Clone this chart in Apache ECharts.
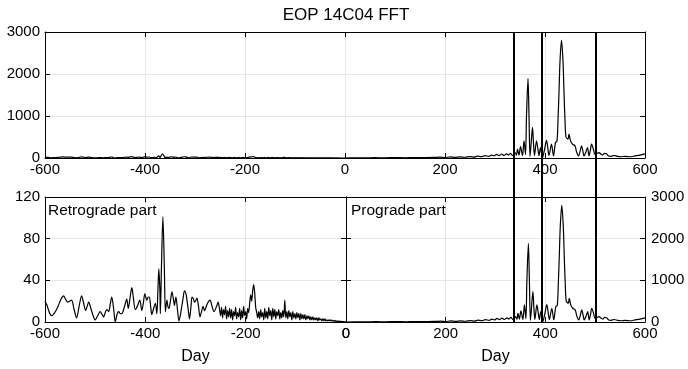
<!DOCTYPE html>
<html>
<head>
<meta charset="utf-8">
<script src="https://cdn.jsdelivr.net/npm/echarts@6/dist/echarts.min.js"></script>
<style>
html,body{margin:0;padding:0;background:#fff;}
#chart{width:688px;height:369px;}
</style>
</head>
<body>
<div id="chart"></div>
<script>
// Retrograde part (negative periods, days) and amplitude
const retroDays = [
 -600,-596,-592,-587,-582,-575,-568,-563,-559,-555,-551,-547,-542,-537,-532,-527,-523,-519,-516,-513,
 -508,-504,-500,-495,-490,-486,-483,-480,-477,-473,-470,-467,-463,-460,-456,-453,-450,-447,-442,-437,
 -434,-430,-427,-424,-420,-416,-411,-407,-404,-401,-397,-394,-392,-389,-387,-384,-380,-377,-375,-373,
 -371,-370,-368,-365,-362,-360,-357,-355,-353,-350,-347,-344,-342,-339,-336,-333,-330,-328,-325,-322,
 -319,-317,-314,-312,-309,-307,-304,-302,-299,-297,-294,-291,-288,-285,-282,-280,-276,-271,-267,-263,
 -258,-255,-252,
 -250,-248,-246,-244,-242,-240,-238,-236,-234,-232,-230,-228,-226,-224,-222,-220,-218,-216,-214,-212,
 -210,-208,-206,-204,-202,-200,-198,-196,-194,-192,-190,-188,-186,-184,-182,-180,-178,-176,-174,-172,
 -170,-168,-166,-164,-162,-160,-158,-156,-154,-152,-150,-148,-146,-144,-142,-140,-138,-136,-134,-132,
 -130,-128,-126,-124,-122,-120,-118,-116,-114,-112,-110,-108,-106,-104,-102,-100,-98,-96,-94,-92,
 -90,-88,-86,-84,-82,-80,-78,-76,-74,-72,-70,-68,-66,-64,-62,-60,-58,-56,-54,-52,
 -50,-48,-46,-44,-42,-40,-38,-36,-34,-32,-30,-28,-26,-24,-22,-20,-18,-16,-14,-12,
 -10,-8,-6,-4,-2,0
];
const retroAmp = [
 20,16,10,6,8,14,22,25,22,19,20,21,12,4,15,25,18,11,15,19,
 12,6,2,6,10,7,5,9,12,10,17,24,12,0,8,10,8,8,14,22,
 13,25,33,24,12,15,21,11,18,27,21,24,24,13,7,12,18,8,30,51,
 30,8,50,101,50,10,21,15,13,20,29,22,16,24,12,1,7,13,22,30,
 27,21,10,3,15,24,22,19,21,23,15,5,10,15,11,13,18,21,15,10,
 15,19,12,
 6,14,4,12,7,15,3,11,5,13,4,12,2,10,6,14,3,9,5,13,
 2,11,4,15,6,10,3,13,9,18,26,20,30,36,28,14,9,4,10,3,
 12,5,9,2,13,4,10,3,14,6,11,2,13,5,12,3,10,6,12,3,
 9,4,11,5,21,4,10,3,11,5,9,2,10,4,8,3,9,4,8,2,
 8,3,7,3,7,2,6,3,6,2,5,2,5,2,4,2,4,1,4,2,
 3,1,3,1,3,1,2,1,2,1,2,1,1.5,0.5,1.5,0.5,1,0.5,1,0.3,
 0.8,0.3,0.5,0.2,0.3,0
];
// Prograde part (positive periods, days) and amplitude
const proDays = [
 0,20,40,60,80,100,120,140,160,180,190,200,210,220,230,240,250,258,265,272,
 280,287,293,298,303,308,313,318,323,327,331,335,340,343,345,348,351,355,358,361,
 363,366,368,370,372,375,377,379,383,386,388,391,395,399,403,406,408,413,417,421,
 424,426,428,430,433,436,438,440,442,446,448,451,455,460,463,467,470,473,476,478,
 482,485,488,491,493,497,500,504,508,512,515,519,523,527,532,538,545,552,560,570,
 580,590,600
];
const proAmp = [
 0,5,3,8,5,10,6,12,8,15,20,10,25,15,28,18,35,22,45,30,
 55,40,70,50,85,55,95,60,100,70,110,60,130,70,210,70,270,60,410,80,
 1000,1890,1000,40,300,730,350,60,410,200,60,250,10,200,420,200,60,330,50,370,
 400,900,1570,2300,2800,2300,1570,900,500,450,570,410,330,290,150,50,150,290,150,50,
 150,250,50,200,330,200,80,110,130,90,70,110,100,50,40,60,40,30,40,30,
 50,70,100
];
// Band boundaries (days)
const bandEdges = [336, 392, 501];

const titleText = 'EOP 14C04 FFT';
const retroLabel = 'Retrograde part';
const proLabel = 'Prograde part';
const xName = 'Day';
const topYTicks = {min:0, max:3000, interval:1000};
const retroYTicks = {min:0, max:120, interval:40};

const FONT = 'Liberation Sans, Arial, sans-serif';
const retroData = retroDays.map((d,i)=>[d, retroAmp[i]]);
const proData = proDays.map((d,i)=>[d, proAmp[i]]);
const fullData = retroData.concat(proData.slice(1));

const gridColor = '#e6e6e6';
const fmt = v => String(v);
function mainX(grid, min, max, name){
  return {type:'value', gridIndex:grid, position:'bottom', min:min, max:max, interval:200,
    name:name||'', nameLocation:'middle', nameGap:27,
    nameTextStyle:{color:'#000', fontSize:16, fontFamily:FONT},
    axisLine:{show:true, onZero:false, lineStyle:{color:'#000', width:1}},
    axisTick:{show:true, inside:true, length:5, lineStyle:{color:'#000'}},
    axisLabel:{show:true, color:'#000', fontSize:15, fontFamily:FONT, margin:4, hideOverlap:false, formatter:fmt},
    splitLine:{show:true, lineStyle:{color:gridColor, width:1}}};
}
function mirrorX(grid, min, max){
  return {type:'value', gridIndex:grid, position:'top', min:min, max:max, interval:200,
    axisLine:{show:true, onZero:false, lineStyle:{color:'#000', width:1}},
    axisTick:{show:true, inside:true, length:5, lineStyle:{color:'#000'}},
    axisLabel:{show:false}, splitLine:{show:false}};
}
function mainY(grid, t, pos){
  return {type:'value', gridIndex:grid, position:pos, min:t.min, max:t.max, interval:t.interval,
    axisLine:{show:true, onZero:false, lineStyle:{color:'#000', width:1}},
    axisTick:{show:true, inside:true, length:5, lineStyle:{color:'#000'}},
    axisLabel:{show:true, color:'#000', fontSize:15, fontFamily:FONT, margin:pos==='left'?5:6, hideOverlap:false, formatter:fmt},
    splitLine:{show:true, lineStyle:{color:gridColor, width:1}}};
}
function mirrorY(grid, t, pos){
  return {type:'value', gridIndex:grid, position:pos, min:t.min, max:t.max, interval:t.interval,
    axisLine:{show:true, onZero:false, lineStyle:{color:'#000', width:1}},
    axisTick:{show:true, inside:true, length:5, lineStyle:{color:'#000'}},
    axisLabel:{show:false}, splitLine:{show:false}};
}

const chart = echarts.init(document.getElementById('chart'), null, {renderer:'canvas'});
chart.setOption({
  animation:false,
  backgroundColor:'#fff',
  title:[
    {text:titleText, left:346, top:7, textAlign:'center', padding:0,
     textStyle:{color:'#000', fontSize:17, fontWeight:'normal', fontFamily:FONT}},
    {text:retroLabel, left:48, top:203, padding:0,
     textStyle:{color:'#000', fontSize:15.5, fontWeight:'normal', fontFamily:FONT}},
    {text:proLabel, left:351, top:203, padding:0,
     textStyle:{color:'#000', fontSize:15.5, fontWeight:'normal', fontFamily:FONT}}
  ],
  grid:[
    {left:45, top:32, width:600, height:126},
    {left:45, top:197, width:301, height:125},
    {left:346, top:197, width:299, height:125},
    {left:346, top:32, width:299, height:290}
  ],
  xAxis:[
    mainX(0,-600,600), mirrorX(0,-600,600),
    mainX(1,-600,0,xName), mirrorX(1,-600,0),
    mainX(2,0,600,xName), mirrorX(2,0,600),
    {type:'value', gridIndex:3, min:0, max:600, show:false}
  ],
  yAxis:[
    mainY(0,topYTicks,'left'), mirrorY(0,topYTicks,'right'),
    mainY(1,retroYTicks,'left'), mirrorY(1,retroYTicks,'right'),
    mainY(2,topYTicks,'right'), mirrorY(2,topYTicks,'left'),
    {type:'value', gridIndex:3, min:0, max:1, show:false}
  ],
  series:[
    {type:'line', xAxisIndex:0, yAxisIndex:0, data:fullData, showSymbol:false, smooth:0.3,
     lineStyle:{color:'#000', width:1.2}, silent:true},
    {type:'line', xAxisIndex:2, yAxisIndex:2, data:retroData, showSymbol:false, smooth:0.3,
     lineStyle:{color:'#000', width:1.2}, silent:true},
    {type:'line', xAxisIndex:4, yAxisIndex:4, data:proData, showSymbol:false, smooth:0.3,
     lineStyle:{color:'#000', width:1.2}, silent:true},
    {type:'line', xAxisIndex:6, yAxisIndex:6, data:[], silent:true,
     markLine:{silent:true, symbol:['none','none'], label:{show:false},
       lineStyle:{color:'#000', width:2, type:'solid'},
       data:bandEdges.map(v=>({xAxis:v}))}}
  ]
});
</script>
</body>
</html>
